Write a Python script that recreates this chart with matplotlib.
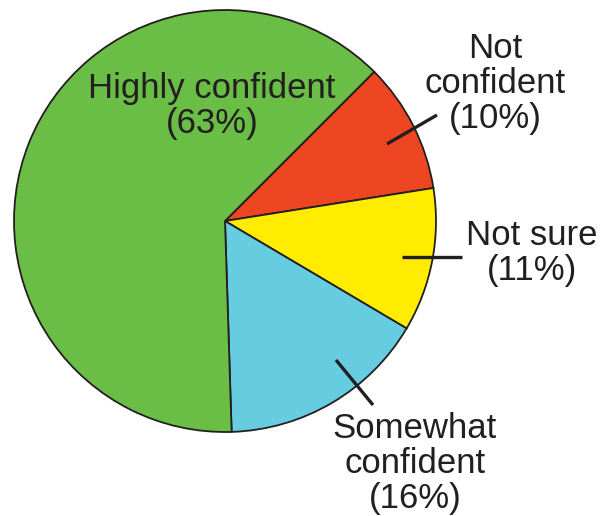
import matplotlib
matplotlib.use("Agg")
import matplotlib.pyplot as plt

# Data
categories = ["Not confident", "Not sure", "Somewhat confident", "Highly confident"]
label_texts = ["Not\nconfident", "Not sure", "Somewhat\nconfident", "Highly confident"]
values = [10, 11, 16, 63]
colors = ["#EE4623", "#FFEC00", "#66CCE0", "#6ABD45"]

W, H = 608, 516
fig = plt.figure(figsize=(W / 100, H / 100), dpi=100)
ax = fig.add_axes([0, 0, 1, 1])

def py(y):
    return H - y

ax.pie(values, colors=colors, startangle=45, counterclock=False,
       center=(225, py(221)), radius=211, frame=True,
       wedgeprops=dict(edgecolor="#231F20", linewidth=1.3))
ax.set_xlim(0, W)
ax.set_ylim(0, H)
ax.set_aspect("equal")
ax.axis("off")

font = dict(family="Liberation Sans", fontsize=25, color="#231F20",
            ha="center", va="baseline", linespacing=1.08)

# label positions (centre x, baseline of last line) in pixels
label_pos = [(495, 128), (532, 280), (415, 508), (212, 133)]
for name, v, (x, y) in zip(label_texts, values, label_pos):
    ax.text(x, py(y), f"{name}\n({v}%)", **font)

# leader lines
leaders = [((387, 144), (437, 115)),
           ((402, 257), (462, 257)),
           ((336, 360), (373, 405))]
for (x0, y0), (x1, y1) in leaders:
    ax.plot([x0, x1], [py(y0), py(y1)], color="#231F20", lw=2.4,
            solid_capstyle="butt")

fig.savefig("out.png", dpi=100)
